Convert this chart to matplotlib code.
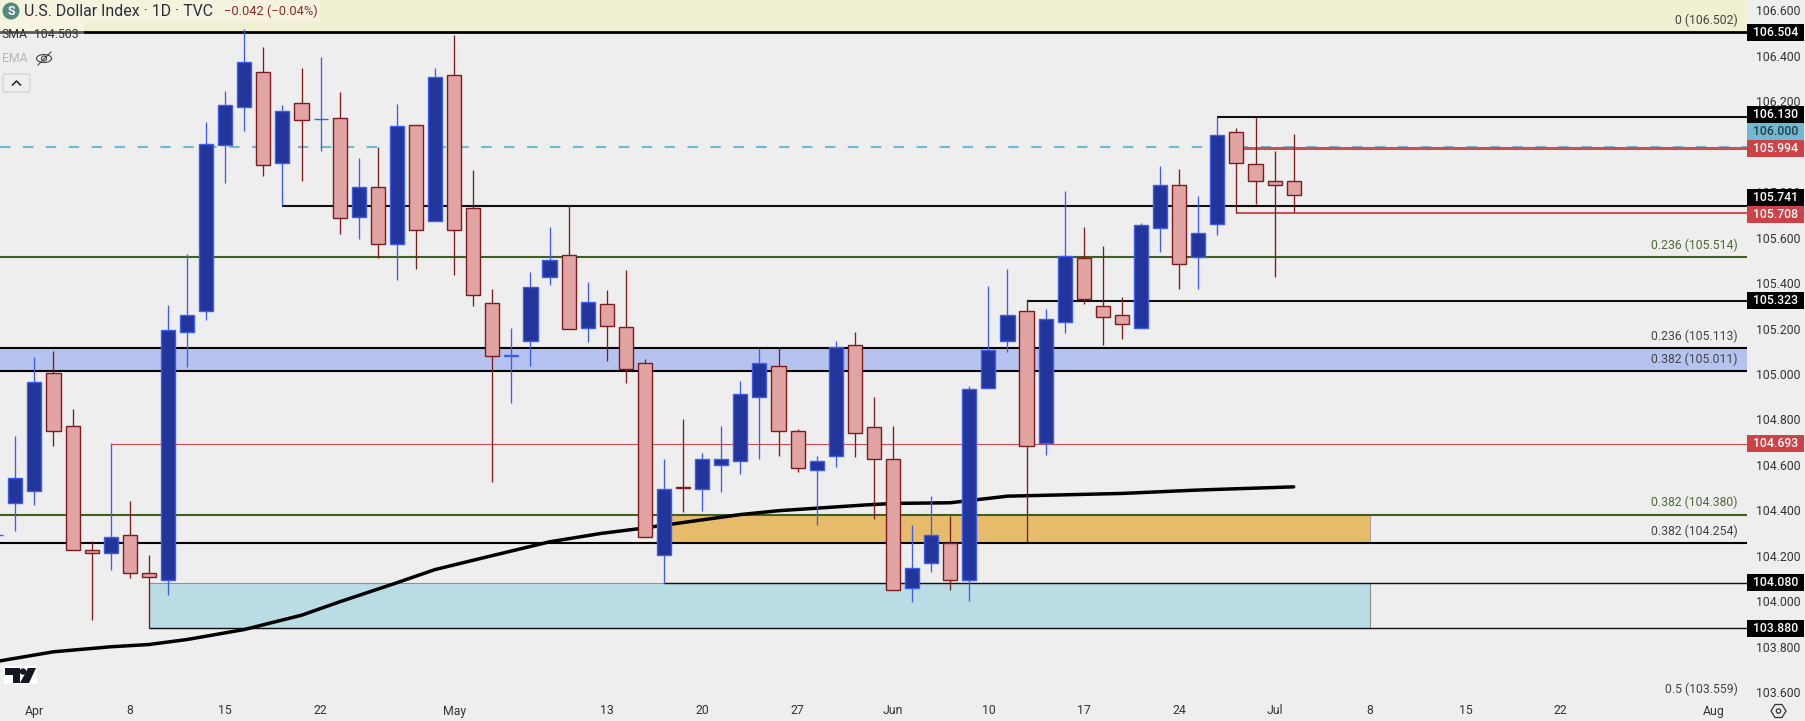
import matplotlib
matplotlib.use('Agg')
import matplotlib.pyplot as plt
from matplotlib.patches import Rectangle, Circle, Polygon, FancyBboxPatch, Ellipse
from matplotlib.transforms import blended_transform_factory

plt.rcParams['font.family'] = ['Roboto', 'DejaVu Sans']

# daily candles, first entry is the session two bars before Apr 1
opens = [104.29, 104.433, 104.486, 105.002, 104.772, 104.227, 104.210, 104.293, 104.122, 104.095,
         105.183, 105.275, 106.009, 106.173, 106.328, 105.930, 106.191, 106.121, 106.125, 105.692,
         105.821, 105.573, 106.094, 105.672, 106.314, 105.729, 105.311, 105.080, 105.143, 105.425,
         105.522, 105.203, 105.306, 105.205, 105.046, 104.205, 104.502, 104.494, 104.597, 104.615,
         104.900, 105.033, 104.747, 104.575, 104.641, 105.126, 104.765, 104.624, 104.056, 104.170,
         104.254, 104.095, 104.936, 105.146, 105.275, 104.694, 105.230, 105.509, 105.297, 105.258,
         105.203, 105.641, 105.830, 105.513, 105.658, 106.063, 105.922, 105.848, 105.848]
highs = [104.37, 104.726, 105.073, 105.101, 104.845, 104.263, 104.694, 104.439, 104.202, 105.303,
         105.528, 106.109, 106.245, 106.518, 106.439, 106.182, 106.347, 106.395, 106.241, 105.950,
         105.999, 106.188, 106.094, 106.347, 106.492, 105.898, 105.374, 105.202, 105.448, 105.647,
         105.743, 105.404, 105.369, 105.457, 105.065, 104.625, 104.801, 104.650, 104.770, 104.968,
         105.114, 105.120, 104.756, 104.641, 105.145, 105.184, 104.898, 104.770, 104.335, 104.462,
         104.374, 104.945, 105.387, 105.462, 105.325, 105.286, 105.805, 105.647, 105.563, 105.337,
         105.664, 105.915, 105.902, 105.783, 106.129, 106.081, 106.129, 105.981, 106.056]
lows = [104.25, 104.310, 104.423, 104.682, 104.227, 103.919, 104.138, 104.103, 103.880, 104.028,
        105.032, 105.237, 105.842, 106.071, 105.873, 105.745, 105.849, 105.983, 105.617, 105.595,
        105.512, 105.415, 105.463, 105.672, 105.435, 105.300, 104.525, 104.870, 105.036, 105.391,
        105.200, 105.142, 105.058, 104.961, 104.283, 104.081, 104.392, 104.396, 104.481, 104.561,
        104.627, 104.640, 104.569, 104.336, 104.591, 104.635, 104.362, 104.047, 103.997, 104.129,
        104.050, 104.001, 104.936, 105.098, 104.260, 104.643, 105.181, 105.309, 105.129, 105.154,
        105.203, 105.538, 105.375, 105.375, 105.613, 105.710, 105.748, 105.428, 105.713]
closes = [104.29, 104.540, 104.963, 104.751, 104.227, 104.210, 104.283, 104.122, 104.107, 105.192,
          105.258, 106.011, 106.182, 106.372, 105.918, 106.156, 106.116, 106.121, 105.685, 105.821,
          105.570, 106.090, 105.632, 106.306, 105.632, 105.346, 105.077, 105.084, 105.381, 105.500,
          105.200, 105.315, 105.212, 105.020, 104.283, 104.492, 104.500, 104.624, 104.624, 104.910,
          105.046, 104.747, 104.584, 104.615, 105.117, 104.742, 104.624, 104.047, 104.148, 104.293,
          104.091, 104.932, 105.104, 105.258, 104.685, 105.240, 105.517, 105.331, 105.252, 105.222,
          105.654, 105.830, 105.482, 105.619, 106.050, 105.927, 105.848, 105.830, 105.786]
first_bar = -2

sma_bars = [-1.8, 1, 4, 6, 8, 11, 14, 16, 19, 21, 23, 27, 29.7, 31.6, 37, 39, 43.5, 45, 48, 51, 57, 61, 66]
sma_vals = [103.737, 103.777, 103.799, 103.809, 103.831, 103.875, 103.938, 103.997, 104.081, 104.139,
            104.180, 104.261, 104.298, 104.318, 104.381, 104.398, 104.423, 104.430, 104.433, 104.462,
            104.474, 104.489, 104.503]

# x tick positions are session numbers counted from Apr 1
time_ticks = [0, 5, 10, 15, 22, 30, 35, 40, 45, 50, 55, 60, 65, 70, 75, 80, 88]
time_labels = ['Apr', '8', '15', '22', 'May', '13', '20', '27', 'Jun', '10', '17', '24', 'Jul', '8', '15', '22', 'Aug']
price_ticks = [106.6, 106.4, 106.2, 106.0, 105.8, 105.6, 105.4, 105.2, 105.0, 104.8, 104.6, 104.4, 104.2, 104.0, 103.8, 103.6]

# fib levels that run the full width
fib_levels = [106.504, 105.113, 105.011, 104.254]
fib_green = [105.514, 104.380]
fib_labels = [(106.502, '0 (106.502)', '#444444'), (105.514, '0.236 (105.514)', '#4e6b33'),
              (105.113, '0.236 (105.113)', '#444444'), (105.011, '0.382 (105.011)', '#444444'),
              (104.380, '0.382 (104.380)', '#4e6b33'), (104.254, '0.382 (104.254)', '#444444'),
              (103.559, '0.5 (103.559)', '#444444')]

# level, bar the line starts on
black_lines = [(106.130, 62), (105.741, 13), (105.323, 52)]
thin_black_lines = [(104.080, 33), (103.880, 6)]
red_lines = [(105.994, 63, 2.2), (105.708, 63, 1.5), (104.693, 4, 0.8)]

# box position, text, fill, text colour
price_boxes = [(106.504, '106.504', '#000000', 'white'), (106.141, '106.130', '#000000', 'white'),
               (106.066, '106.000', '#6fb9d3', '#2a3a44'), (105.991, '105.994', '#cd4246', 'white'),
               (105.776, '105.741', '#000000', 'white'), (105.701, '105.708', '#cd4246', 'white'),
               (105.323, '105.323', '#000000', 'white'), (104.693, '104.693', '#cd4246', 'white'),
               (104.080, '104.080', '#000000', 'white'), (103.880, '103.880', '#000000', 'white')]

BG = '#eeeeee'
UP_FILL, UP_EDGE = '#22359a', '#3f5cf0'
DN_FILL, DN_EDGE = '#e2a3a3', '#7a1c20'

fig = plt.figure(figsize=(18.06, 7.21), dpi=100, facecolor=BG)
ax = fig.add_axes([0, 1 - 697 / 721, 1747 / 1806, 697 / 721], facecolor=BG)
ax.set_xlim(-1.803, 89.76)
ax.set_ylim(103.578, 106.646)
for s in ax.spines.values():
    s.set_visible(False)

# zones
ax.axhspan(106.504, 106.7, color='#f2f0d3', lw=0, zorder=1)
ax.axhspan(105.011, 105.113, color='#b6c3f0', lw=0, zorder=1)
ax.add_patch(Rectangle((33, 104.254), 37, 0.126, fc='#e6bc6a', ec='#999999', lw=0.6, zorder=1))
ax.add_patch(Rectangle((6, 103.88), 64, 0.198, fc='#b9dce5', ec='#8a9296', lw=0.8, zorder=1))

# levels
ax.axhline(106.0, color='#6fb9d3', lw=1.5, ls=(0, (5, 6)), zorder=2)
for lev in fib_levels:
    ax.axhline(lev, color='black', lw=2 if lev == 106.504 else 1.5, zorder=2)
for lev in fib_green:
    ax.axhline(lev, color='#3f5f23', lw=1.5, zorder=2)
right = ax.get_xlim()[1]
for lev, start in black_lines:
    ax.plot([start, right], [lev, lev], color='#111111', lw=1.5, solid_capstyle='butt', zorder=2)
for lev, start in thin_black_lines:
    ax.plot([start, right], [lev, lev], color='#111111', lw=1.0, solid_capstyle='butt', zorder=2)
for lev, start, w in red_lines:
    ax.plot([start, right], [lev, lev], color='#cd4f53', lw=w, solid_capstyle='butt', zorder=2)

ax.plot(sma_bars, sma_vals, color='black', lw=2.5, solid_capstyle='round', zorder=3)

# candles
bars = list(range(first_bar, first_bar + len(opens)))
for i, o, h, l, c in zip(bars, opens, highs, lows, closes):
    up = c >= o
    fill, edge = (UP_FILL, UP_EDGE) if up else (DN_FILL, DN_EDGE)
    ax.plot([i, i], [l, h], color=edge, lw=0.95, solid_capstyle='butt', zorder=4)
    ax.bar(i, abs(c - o), bottom=min(o, c), width=0.74, facecolor=fill, edgecolor=edge, linewidth=1.0, zorder=5)

# axes labels
ax.yaxis.tick_right()
ax.set_yticks(price_ticks)
ax.set_yticklabels(['%.3f' % p for p in price_ticks])
ax.set_xticks(time_ticks)
ax.set_xticklabels(time_labels)
ax.tick_params(axis='y', length=0, pad=6.8, labelsize=8.8, labelcolor='#333333')
ax.tick_params(axis='x', length=0, pad=5.4, labelsize=8.8, labelcolor='#333333')

trans = blended_transform_factory(ax.transAxes, ax.transData)
for lev, txt, col in fib_labels:
    ax.annotate(txt, xy=(1, lev), xycoords=trans, xytext=(-9, 12), textcoords='offset pixels',
                ha='right', va='center', fontsize=8.8, color=col, zorder=6, annotation_clip=False)

box_w = 57 / 1747
box_h = 17 / 227.14
for pos, txt, fill, tcol in price_boxes:
    ax.add_patch(Rectangle((1, pos - box_h / 2), box_w, box_h, transform=trans, fc=fill, ec='none',
                           clip_on=False, zorder=10))
    ax.text(1 + box_w / 2, pos, txt, transform=trans, ha='center', va='center', color=tcol,
            fontsize=8.8, fontweight='medium', zorder=11, clip_on=False)

# chart furniture in pixel coordinates
ui = fig.add_axes([0, 0, 1, 1], facecolor='none')
ui.set_xlim(0, 1806)
ui.set_ylim(721, 0)
ui.axis('off')

ui.add_patch(Rectangle((0, 0), 320, 22, fc='white', ec='none', alpha=0.25))
ui.add_patch(Rectangle((0, 22), 84, 13, fc='white', ec='none', alpha=0.35))
ui.add_patch(Circle((11, 11), 8.5, fc='#4f8a7c', ec='none'))
ui.text(11, 11.5, 'S', color='white', fontsize=9, fontweight='bold', ha='center', va='center')
ui.text(24, 11, 'U.S. Dollar Index · 1D · TVC', color='#2a2e39', fontsize=11.4, va='center')
ui.text(224, 11, '\u22120.042 (\u22120.04%)', color='#8b2c2c', fontsize=9.3, va='center')
ui.text(2, 35, 'SMA', color='#333333', fontsize=8.8, va='center')
ui.text(34, 35, '104.503', color='#333333', fontsize=8.8, va='center')
ui.text(2, 58.5, 'EMA', color='#b4b7bd', fontsize=8.8, va='center')
ui.add_patch(Ellipse((44, 58.5), 15, 8, fc='none', ec='#444444', lw=0.8))
ui.add_patch(Circle((44, 58.5), 2.5, fc='none', ec='#444444', lw=0.8))
ui.plot([38, 51], [65, 52], color='#444444', lw=0.8)
ui.add_patch(FancyBboxPatch((3, 74), 27, 18, boxstyle='round,pad=0,rounding_size=2', fc=BG, ec='#cfcfcf', lw=0.8))
ui.plot([12.5, 16.5, 20.5], [85, 81, 85], color='#222222', lw=1.1)

# tv logo
ui.add_patch(Rectangle((4, 666), 33, 18, fc='white', ec='none'))
ui.add_patch(Polygon([(5, 668), (20, 668), (20, 683), (13, 683), (13, 675), (5, 675)], fc='#131722', ec='none'))
ui.add_patch(Circle((23, 671.5), 3.2, fc='#131722', ec='none'))
ui.add_patch(Polygon([(28, 668), (36, 668), (29, 683), (20, 683)], fc='#131722', ec='none'))

# settings hexagon
ui.add_patch(Polygon([(1771, 711), (1775, 704.5), (1782, 704.5), (1786, 711), (1782, 717.5), (1775, 717.5)],
                     fc='none', ec='#333333', lw=0.9))
ui.add_patch(Circle((1778.5, 711), 2.2, fc='none', ec='#333333', lw=0.9))

fig.savefig('out.png', dpi=100, facecolor=BG)
